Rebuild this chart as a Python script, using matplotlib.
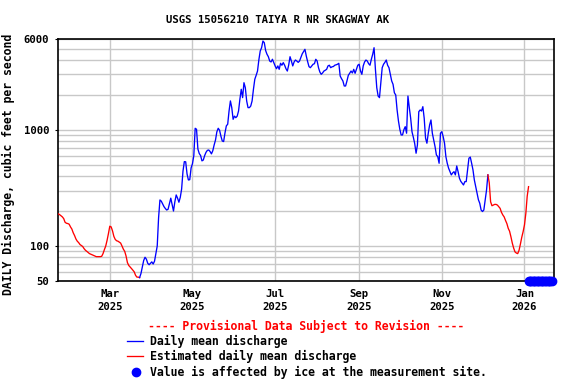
import numpy as np
import matplotlib
matplotlib.use('Agg')
import matplotlib.pyplot as plt
from matplotlib.ticker import FixedLocator, NullFormatter, FuncFormatter
from matplotlib.lines import Line2D

plt.rcParams['font.family'] = 'DejaVu Sans Mono'
plt.rcParams['font.weight'] = 'bold'

# estimated daily mean discharge, winter 2025 (cfs)
est1_start = '2025-01-22'
est1_cfs = [189, 186, 182, 178, 172, 160, 157, 156, 154, 146,
            140, 130, 123, 115, 110, 107, 103, 101, 99, 95,
            92, 90, 88, 86, 85, 84, 83, 82, 81, 81,
            81, 81, 81.5, 86, 93, 100, 112, 128, 148, 146,
            135, 121, 114, 111, 110, 108, 106, 100, 94, 90,
            82, 72, 68, 66, 64, 62, 60, 56, 54, 54,
            53.5]

# daily mean discharge (cfs)
daily_start = '2025-03-23'
daily_cfs = [53.5, 58, 66, 75, 80, 77, 71, 69, 71, 73,
             70, 74, 86, 100, 175, 249, 243, 230, 218, 210,
             204, 207, 232, 258, 226, 200, 240, 275, 258, 238,
             262, 309, 440, 532, 530, 417, 370, 372, 470, 510,
             600, 1030, 1010, 683, 625, 600, 540, 549, 600, 640,
             665, 670, 650, 620, 660, 740, 816, 960, 1030, 990,
             880, 800, 792, 940, 1080, 1116, 1450, 1770, 1550, 1230,
             1310, 1270, 1310, 1450, 1830, 2230, 1890, 2540, 2300, 1770,
             1550, 1550, 1600, 1770, 2230, 2720, 2940, 3200, 4000, 4760,
             5080, 5800, 5610, 4800, 4460, 4250, 3900, 3830, 4040, 3780,
             3540, 3350, 3540, 3310, 3730, 3590, 3780, 3590, 3350, 3200,
             3600, 4250, 3900, 3540, 3830, 3980, 3900, 3800, 3900, 4200,
             4500, 4700, 4920, 4300, 3850, 3490, 3420, 3540, 3660, 3700,
             4040, 3900, 3420, 3140, 3000, 3080, 3200, 3250, 3310, 3540,
             3590, 3420, 3480, 3500, 3590, 3620, 3660, 3730, 2900, 2750,
             2630, 2380, 2380, 2630, 2940, 3060, 3200, 3080, 3310, 3060,
             3310, 3590, 3660, 3200, 3000, 3540, 3830, 3980, 3900, 3700,
             3590, 4040, 4460, 5080, 3310, 2300, 1950, 1890, 2540, 3420,
             3660, 3800, 3980, 3590, 3420, 3000, 2630, 2460, 2080, 1990,
             1480, 1190, 1010, 902, 902, 1000, 1063, 934, 1950, 1550,
             1260, 960, 860, 760, 628, 740, 1430, 1480, 1450, 1580,
             1256, 846, 766, 934, 1100, 1214, 934, 817, 716, 607,
             587, 515, 934, 963, 873, 766, 587, 515, 467, 436,
             409, 425, 436, 409, 488, 436, 383, 360, 347, 335,
             358, 358, 451, 569, 582, 515, 451, 370, 324, 285,
             250, 233, 204, 198, 204, 249, 303, 409]

# estimated daily mean discharge, winter 2025-26 (cfs)
est2_start = '2025-12-05'
est2_cfs = [409, 350, 240, 222, 225, 228, 228, 225, 218, 211,
            195, 185, 178, 166, 156, 142, 134, 120, 106, 96,
            89, 87, 86, 92, 104, 119, 133, 152, 191, 268,
            324]

# days flagged as ice affected
ice_start = '2026-01-04'
ice_days = 18

xticks = ['2025-03-01', '2025-05-01', '2025-07-01', '2025-09-01', '2025-11-01', '2026-01-01']
xlabels = ['Mar\n2025', 'May\n2025', 'Jul\n2025', 'Sep\n2025', 'Nov\n2025', 'Jan\n2026']
ymajor = [50, 100, 1000, 6000]
yminor = [60, 70, 80, 90, 200, 300, 400, 500, 600, 700, 800, 900, 2000, 3000, 4000, 5000]

blue = '#0000ff'
red = '#ff0000'
gridc = '#c8c8c8'

fig = plt.figure(figsize=(5.76, 3.84), dpi=100)
ax = fig.add_axes([58.3/576, 1-281/384, 496/576, (281-39.3)/384])

d1 = np.datetime64(est1_start) + np.arange(len(est1_cfs))
d2 = np.datetime64(daily_start) + np.arange(len(daily_cfs))
d3 = np.datetime64(est2_start) + np.arange(len(est2_cfs))
d4 = np.datetime64(ice_start) + np.arange(ice_days)

ax.plot(d1, est1_cfs, color=red, lw=0.95, zorder=3)
ax.plot(d2, daily_cfs, color=blue, lw=0.95, zorder=3)
ax.plot(d3, est2_cfs, color=red, lw=0.95, zorder=3)
ax.plot(d4, [50]*ice_days, 'o', color=blue, ms=6, clip_on=False, zorder=5)

ax.set_yscale('log')
ax.set_ylim(50, 6000)
ax.set_xlim(np.datetime64('2025-01-22'), np.datetime64('2026-01-23'))

ax.yaxis.set_major_locator(FixedLocator(ymajor))
ax.yaxis.set_major_formatter(FuncFormatter(lambda v, p: '%d' % round(v)))
ax.yaxis.set_minor_locator(FixedLocator(yminor))
ax.yaxis.set_minor_formatter(NullFormatter())
ax.grid(which='both', axis='y', color=gridc, lw=1, zorder=1)

ax.set_xticks([np.datetime64(t) for t in xticks])
ax.set_xticklabels(xlabels)
ax.grid(which='major', axis='x', color=gridc, lw=1, zorder=1)
for lab in ax.get_xticklabels():
    lab.set_linespacing(1.3)

ax.tick_params(axis='x', length=0, pad=6, labelsize=7.7)
ax.tick_params(axis='y', which='major', length=2, pad=4.5, labelsize=7.7)
ax.tick_params(axis='y', which='minor', length=0)
for s in ax.spines.values():
    s.set_linewidth(1.2)

fig.text(277.5/576, 1-20.3/384, 'USGS 15056210 TAIYA R NR SKAGWAY AK', ha='center', va='center', fontsize=7.7)
fig.text(8/576, 1-164.5/384, 'DAILY Discharge, cubic feet per second', rotation=90,
         ha='center', va='center', fontsize=8.3)

# legend block under the plot
fig.text(306/576, 1-326.7/384, '---- Provisional Data Subject to Revision ----', color=red,
         ha='center', va='center', fontsize=8.3)
fig.add_artist(Line2D([126.7/576, 143.3/576], [1-340.7/384]*2, color=blue, lw=0.95))
fig.text(150/576, 1-341/384, 'Daily mean discharge', ha='left', va='center', fontsize=8.3)
fig.add_artist(Line2D([126.7/576, 143.3/576], [1-356/384]*2, color=red, lw=0.95))
fig.text(150/576, 1-356.5/384, 'Estimated daily mean discharge', ha='left', va='center', fontsize=8.3)
fig.add_artist(Line2D([135.7/576], [1-372.3/384], marker='o', color=blue, ms=6))
fig.text(150/576, 1-372.5/384, 'Value is affected by ice at the measurement site.', ha='left', va='center', fontsize=8.3)

fig.savefig('out.png', dpi=100)
